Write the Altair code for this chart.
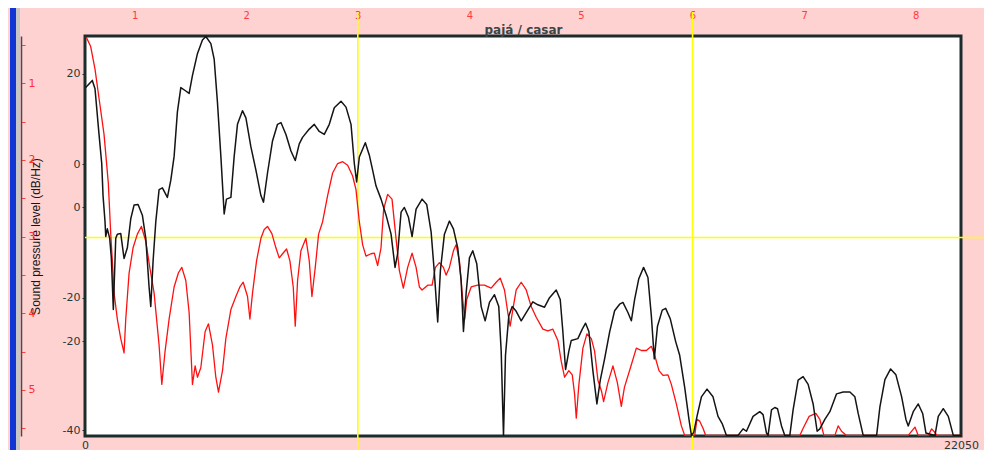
import altair as alt
import pandas as pd

# ---------------- data ----------------
BLACK_HZ = [18, 184, 252, 353, 421, 454, 504, 522, 562, 622, 663, 713, 774, 814, 900, 983,
            1066, 1152, 1235, 1336, 1444, 1530, 1613, 1656, 1714, 1782, 1865, 1948, 2074,
            2160, 2243, 2326, 2412, 2520, 2621, 2704, 2830, 2956, 3042, 3168, 3251, 3334,
            3420, 3503, 3561, 3672, 3755, 3838, 3964, 4050, 4176, 4302, 4428, 4493, 4594,
            4720, 4846, 4932, 5058, 5184, 5292, 5393, 5476, 5645, 5771, 5897, 6023, 6149,
            6275, 6444, 6570, 6696, 6779, 6837, 6905, 7056, 7157, 7240, 7326, 7452, 7578,
            7704, 7804, 7870, 7956, 8039, 8140, 8233, 8334, 8485, 8601, 8712, 8795, 8878,
            8946, 9047, 9173, 9274, 9382, 9468, 9526, 9594, 9677, 9760, 9861, 9972, 10072,
            10181, 10307, 10415, 10476, 10516, 10534, 10584, 10667, 10753, 10854, 10980,
            11106, 11272, 11398, 11567, 11693, 11861, 11962, 12028, 12096, 12179, 12240,
            12406, 12517, 12600, 12683, 12784, 12885, 12970, 13079, 13205, 13331, 13457,
            13540, 13666, 13752, 13835, 13940, 14060, 14170, 14256, 14330, 14410, 14530,
            14616, 14734, 14868, 14969, 15095, 15203, 15264, 15322, 15405, 15516, 15657,
            15808, 15934, 16045, 16146, 16438, 16564, 16650, 16816, 16985, 17068, 17154,
            17194, 17280, 17363, 17431, 17532, 17615, 17741, 17824, 17950, 18076, 18202,
            18328, 18429, 18497, 18623, 18749, 18918, 19084, 19253, 19379, 19462, 19588,
            19926, 20009, 20135, 20278, 20412, 20556, 20664, 20722, 20848, 20974, 21085,
            21168, 21395, 21478, 21604, 21730, 21856, 22050]
BLACK_DB = [17.7, 18.9, 17.5, 9.8, 4.9, -0.5, -4.9, -7.4, -6.1, -7.7, -11.0, -19.7, -7.7, -7.0,
            -6.9, -11.1, -9.3, -4.4, -2.1, -2.0, -3.8, -7.7, -15.9, -19.2, -11.5, -4.9, 0.5,
            0.8, -0.8, 2.1, 6.1, 13.6, 17.7, 17.2, 16.7, 19.7, 23.4, 25.7, 26.3, 25.1, 22.5,
            15.2, 6.1, -3.6, -1.1, -0.8, 6.1, 11.5, 13.8, 12.6, 7.7, 3.8, -0.5, -1.6, 3.3,
            8.7, 11.5, 11.8, 9.8, 7.0, 5.4, 8.2, 9.3, 10.7, 11.5, 10.3, 9.8, 11.5, 14.3, 15.4,
            14.4, 11.5, 4.9, 1.8, 6.0, 8.4, 6.3, 3.8, 1.1, -1.1, -3.8, -7.0, -12.6, -10.3,
            -3.3, -2.5, -4.1, -7.4, -2.8, -1.1, -2.0, -6.6, -13.6, -21.8, -13.1, -7.0, -4.8,
            -6.1, -9.3, -14.8, -23.4, -16.9, -11.0, -9.8, -12.0, -19.2, -21.6, -18.5, -17.2,
            -19.2, -26.7, -36.6, -40.9, -27.4, -20.8, -19.2, -20.0, -21.6, -20.2, -18.4,
            -18.9, -19.3, -17.7, -16.4, -18.0, -23.4, -29.8, -26.7, -24.9, -24.6, -23.0,
            -22.0, -23.4, -30.0, -35.6, -31.6, -28.0, -23.5, -19.9, -18.8, -18.5, -20.2,
            -21.6, -18.0, -14.5, -12.6, -14.3, -20.8, -28.0, -22.5, -19.8, -19.5, -21.3,
            -25.1, -27.4, -32.8, -38.2, -40.9, -40.4, -37.7, -34.4, -33.1, -34.4, -37.7,
            -39.0, -40.9, -40.9, -39.8, -40.2, -37.7, -36.9, -37.4, -40.5, -40.9, -36.6,
            -36.2, -36.4, -39.3, -40.9, -40.9, -36.6, -31.6, -31.0, -32.3, -35.6, -40.2,
            -39.8, -38.2, -36.9, -33.9, -33.6, -33.6, -34.4, -37.2, -40.9, -40.9, -36.1,
            -31.5, -29.7, -30.7, -34.4, -38.2, -39.3, -36.9, -35.6, -37.2, -40.5, -40.9,
            -37.7, -36.4, -37.7, -40.9, -40.9]

RED_HZ = [30, 143, 252, 353, 479, 587, 648, 688, 731, 814, 900, 983, 1026, 1109, 1210, 1318,
          1419, 1530, 1631, 1739, 1865, 1933, 2016, 2117, 2243, 2352, 2437, 2537, 2621, 2705,
          2772, 2830, 2915, 3024, 3108, 3209, 3293, 3360, 3461, 3545, 3672, 3798, 3898, 3982,
          4091, 4151, 4217, 4318, 4428, 4511, 4594, 4704, 4805, 4889, 4973, 5074, 5158, 5242,
          5292, 5351, 5435, 5561, 5645, 5712, 5796, 5880, 5981, 6107, 6233, 6359, 6485, 6611,
          6737, 6821, 6905, 6989, 7073, 7199, 7283, 7366, 7451, 7517, 7618, 7728, 7829, 7912,
          8013, 8122, 8233, 8334, 8417, 8485, 8626, 8737, 8820, 8921, 9022, 9089, 9173, 9274,
          9341, 9425, 9508, 9559, 9609, 9720, 9886, 10055, 10223, 10349, 10450, 10559, 10642,
          10702, 10769, 10854, 10980, 11106, 11232, 11358, 11525, 11651, 11777, 11903, 11987,
          12071, 12179, 12265, 12323, 12366, 12432, 12533, 12634, 12745, 12827, 12911, 13003,
          13054, 13163, 13289, 13400, 13500, 13578, 13752, 13878, 14004, 14130, 14256, 14339,
          14448, 14548, 14674, 14759, 14885, 15011, 15095, 15347, 15405, 15473, 15556, 15624,
          17993, 18076, 18227, 18396, 18497, 18598, 18875, 18958, 19043, 19169, 20722, 20891,
          20974, 21227, 21311, 21395, 21437, 22050]
RED_DB = [26.2, 24.6, 20.8, 15.9, 9.8, 1.6, -7.0, -11.5, -16.9, -21.3, -24.6, -27.0, -21.3,
          -13.6, -9.3, -7.0, -5.7, -8.2, -12.6, -16.9, -25.7, -32.3, -26.7, -21.3, -15.9,
          -13.5, -12.6, -14.8, -20.2, -32.3, -29.2, -31.1, -29.5, -23.4, -22.1, -25.7, -31.1,
          -33.6, -30.0, -24.6, -19.7, -17.5, -15.9, -15.1, -17.5, -21.3, -16.9, -11.5, -7.7,
          -6.2, -5.7, -6.9, -9.3, -11.0, -10.3, -9.5, -11.5, -15.9, -22.5, -14.8, -9.8, -7.7,
          -11.5, -17.5, -12.6, -7.0, -4.9, -0.5, 3.3, 4.9, 5.2, 4.6, 2.8, 0.5, -4.9, -8.8,
          -10.7, -10.3, -10.2, -12.3, -9.3, -2.8, -0.3, -1.1, -7.7, -13.1, -16.1, -12.6,
          -10.2, -12.6, -15.9, -16.4, -15.6, -15.6, -12.6, -11.8, -12.6, -13.9, -12.6, -9.8,
          -8.8, -11.5, -18.0, -21.3, -18.0, -15.9, -15.6, -15.6, -16.1, -15.1, -14.4, -16.4,
          -20.2, -22.5, -19.7, -16.4, -15.1, -16.4, -19.2, -21.0, -23.0, -23.3, -23.0, -24.9,
          -28.4, -31.1, -30.0, -30.7, -33.9, -38.0, -32.3, -26.2, -23.8, -24.6, -26.7, -31.6,
          -33.5, -35.2, -32.0, -29.2, -32.0, -36.0, -32.8, -29.0, -26.2, -26.6, -26.6, -25.9,
          -27.4, -30.0, -30.8, -30.7, -32.3, -35.6, -39.3, -40.9, -40.9, -38.2, -38.5, -39.7,
          -40.9, -40.9, -39.7, -37.7, -37.2, -38.2, -40.9, -40.9, -39.3, -40.2, -40.9, -40.9,
          -39.5, -40.9, -40.9, -39.8, -40.4, -40.9, -40.9]

X_DOMAIN = [0, 22050]
X_TICKS = [0, 22050]
Y_DOMAIN = [-41.0, 26.38]
Y_TICKS = [20, 4.75, -2.5, -17.7, -25, -40]
Y_TICK_LABELS = ["20", "0", "0", "-20", "-20", "-40"]
TOP_DOMAIN = [0.555, 8.406]
TOP_TICKS = [1, 2, 3, 4, 5, 6, 7, 8]
RED_AXIS_DOMAIN = [0.384, 5.601]
RED_AXIS_TICKS = [0.5, 1, 1.5, 2, 2.5, 3, 3.5, 4, 4.5, 5, 5.5]
RED_AXIS_LABELS = ["", "1", "", "2", "", "3", "", "4", "", "5", ""]
CURSOR_TOP = [3, 6]
CURSOR_DB = [-7.57]
TITLE_TOP = "pajá / casar"
TITLE_Y = "Sound pressure level (dB/Hz)"

# ---------------- layout ----------------
W, H = 876, 400
PAD = {"left": 77, "top": 28, "right": 23, "bottom": 14}


def label_map(values, labels):
    return "".join(f"datum.value == {v} ? '{l}' : " for v, l in zip(values, labels)) + "''"


black_df = pd.DataFrame({"freq": BLACK_HZ, "level": BLACK_DB})
red_df = pd.DataFrame({"freq": RED_HZ, "level": RED_DB})

hz_scale = alt.Scale(domain=X_DOMAIN, nice=False, zero=False)
db_scale = alt.Scale(domain=Y_DOMAIN, nice=False, zero=False)
top_scale = alt.Scale(domain=TOP_DOMAIN, nice=False, zero=False)
red_scale = alt.Scale(domain=RED_AXIS_DOMAIN, nice=False, zero=False, reverse=True)

# decorative left strips (blue + light grey)
blue_strip = alt.Chart(alt.Data(values=[{}])).mark_rule(
    color="#1236d6", strokeWidth=6, clip=False
).encode(x=alt.value(-72), y=alt.value(-PAD["top"]), y2=alt.value(H + PAD["bottom"]))
grey_strip = alt.Chart(alt.Data(values=[{}])).mark_rule(
    color="#c6c6c6", strokeWidth=4, clip=False
).encode(x=alt.value(-67), y=alt.value(-PAD["top"]), y2=alt.value(H + PAD["bottom"]))

# yellow cursor lines
vcursor = alt.Chart(pd.DataFrame({"pos": CURSOR_TOP})).mark_rule(
    color="#ffff00", strokeWidth=1.6, clip=False
).encode(
    x=alt.X("pos:Q", scale=top_scale,
            axis=alt.Axis(orient="top", values=TOP_TICKS, format="d", ticks=False,
                          domain=False, grid=False, labelColor="#ff3b3b",
                          labelFont="DejaVu Sans", labelFontSize=10, labelPadding=16,
                          labelFlush=False, title=TITLE_TOP, titleY=-7,
                          titleBaseline="middle", titleFont="DejaVu Sans",
                          titleFontSize=12, titleFontWeight="bold", titleColor="#3a4646")),
    y=alt.value(-24),
    y2=alt.value(H + PAD["bottom"]),
)
hcursor = alt.Chart(pd.DataFrame({"level": CURSOR_DB})).mark_rule(
    color="#ffff00", strokeWidth=1.6, clip=False
).encode(
    y=alt.Y("level:Q", scale=db_scale, axis=None),
    x=alt.value(0),
    x2=alt.value(W + PAD["right"]),
)

red_line = alt.Chart(red_df).mark_line(
    color="#ff1010", strokeWidth=1.3, strokeJoin="round", clip=True
).encode(
    x=alt.X("freq:Q", scale=hz_scale, axis=None),
    y=alt.Y("level:Q", scale=db_scale, axis=None),
)

black_line = alt.Chart(black_df).mark_line(
    color="#141414", strokeWidth=1.5, strokeJoin="round", clip=True
).encode(
    x=alt.X("freq:Q", scale=hz_scale,
            axis=alt.Axis(orient="bottom", values=X_TICKS, format="d", ticks=False,
                          domain=False, grid=False, labelFont="DejaVu Sans",
                          labelFontSize=11, labelColor="#2b3636", labelPadding=3,
                          labelFlush=False, labelOverlap=False, title=None)),
    y=alt.Y("level:Q", scale=db_scale,
            axis=alt.Axis(orient="left", values=Y_TICKS,
                          labelExpr=label_map(Y_TICKS, Y_TICK_LABELS),
                          tickSize=3, tickColor="#1d2d2d", domain=False, grid=False,
                          labelFont="DejaVu Sans", labelFontSize=11, labelColor="#2b3636",
                          labelPadding=2, labelOverlap=False, labelFlush=False,
                          title=TITLE_Y, titleFont="Liberation Sans", titleFontSize=12,
                          titleFontWeight="normal", titleColor="#151515",
                          titleX=-50, titleY=H / 2, titleAngle=-90,
                          titleAlign="center", titleBaseline="middle")),
)

red_axis_layer = alt.Chart(pd.DataFrame({"t": RED_AXIS_TICKS})).mark_point(opacity=0).encode(
    x=alt.value(0),
    y=alt.Y("t:Q", scale=red_scale,
            axis=alt.Axis(orient="right", offset=-(W + 64), values=RED_AXIS_TICKS,
                          labelExpr=label_map(RED_AXIS_TICKS, RED_AXIS_LABELS),
                          tickSize=4, tickColor="#ff4040", tickWidth=1,
                          domain=True, domainColor="#4a4a4a", domainWidth=1.5,
                          grid=False, labelColor="#ff3030", labelFont="DejaVu Sans",
                          labelFontSize=11, labelPadding=3, labelOverlap=False,
                          labelFlush=False, title=None)),
)

chart = alt.layer(
    blue_strip, grey_strip, vcursor, hcursor, red_line, black_line, red_axis_layer
).resolve_scale(
    x="independent", y="independent"
).properties(
    width=W, height=H,
    autosize=alt.AutoSizeParams(type="none"),
    padding=PAD,
    background="#ffd2d2",
).configure_view(
    fill="white", stroke="#1c2c2c", strokeWidth=3
)

chart.save("out.html", embed_options={"renderer": "svg", "actions": False})
